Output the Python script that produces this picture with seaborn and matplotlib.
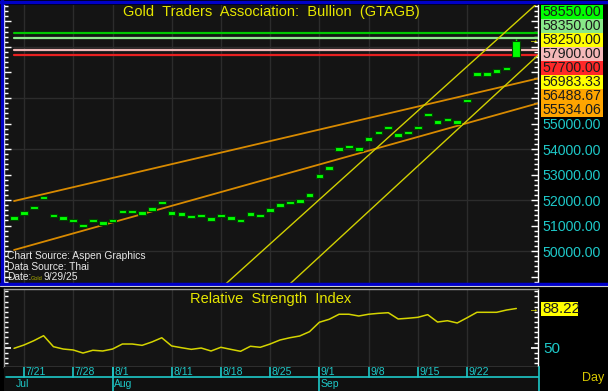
import numpy as np
import pandas as pd
import matplotlib
matplotlib.use('Agg')
import matplotlib.pyplot as plt
import matplotlib.ticker as mticker
from matplotlib.patches import Rectangle
from matplotlib.lines import Line2D
import seaborn as sns

# --- datos ---
dates = pd.bdate_range('2025-07-18', '2025-09-29')
closes = [51300, 51500, 51700, 52100, 51400, 51300, 51200, 51000, 51200, 51100,
          51200, 51550, 51550, 51500, 51650, 51900, 51500, 51450, 51350, 51400,
          51250, 51400, 51300, 51200, 51450, 51400, 51600, 51800, 51900, 51950,
          52200, 52950, 53250, 54000, 54100, 54000, 54400, 54650, 54850, 54550,
          54650, 54850, 55350, 55050, 55150, 55050, 55900, 56950, 56950, 57050,
          57150, 58250]
last_open = 57600
last_high = 58300
rsi = [49.4, 52.6, 56.8, 61.7, 51.0, 48.7, 47.8, 44.8, 47.5, 46.8,
       48.7, 53.6, 53.6, 52.3, 55.6, 59.7, 51.7, 50.0, 48.4, 49.7,
       46.8, 50.4, 48.4, 46.5, 51.4, 50.4, 53.6, 57.5, 59.7, 61.4,
       65.6, 74.8, 77.7, 82.6, 82.6, 80.9, 82.6, 83.5, 84.1, 78.0,
       78.7, 79.6, 82.2, 75.0, 76.3, 74.1, 79.2, 84.5, 84.5, 84.5,
       86.7, 88.22]

# líneas de tendencia (índice de barra, precio)
orange_up = ([0, 54], [51960, 56840])
orange_lo = ([0, 54], [50040, 55880])
yellow_a = ([20, 54], [48190, 60020])
yellow_b = ([27, 54], [48350, 57960])
h_levels = [58550, 58350, 57900, 57700]
h_colors = ['#00c800', '#90e890', '#f0b8b8', '#e82020']

right_labels = ['58550.00', '58350.00', '58250.00', '57900.00', '57700.00',
                '56983.33', '56488.67', '55534.06']
right_colors = ['#00ff00', '#88e888', '#ffff00', '#f4b8b8', '#ff2828',
                '#ffff00', '#ffa500', '#ffa500']

week_ticks = ['7/21', '7/28', '8/1', '8/11', '8/18', '8/25', '9/1', '9/8', '9/15', '9/22']
month_ticks = ['8/1', '9/1']
month_names = ['Jul', 'Aug', 'Sep']

sns.set_theme(style='dark')
plt.rcParams['font.family'] = ['Liberation Sans', 'DejaVu Sans']

W, H = 608, 391
BG = '#141414'
CYAN = '#1ec8c8'
YEL = '#e6e600'
LBL = 10.2

def fx(px):
    return px / W

def fy(py):
    return 1 - py / H

idx = np.arange(len(closes))
labels = [f'{d.month}/{d.day}' for d in dates]
week_pos = [labels.index(t) for t in week_ticks]
month_pos = [labels.index(t) for t in month_ticks]
xlim = (-1.02, 53.2)

fig = plt.figure(figsize=(6.08, 3.91), dpi=100, facecolor='black')
ax = fig.add_axes([fx(4), fy(284), fx(538) - fx(4), fy(5) - fy(284)])
ax_r = fig.add_axes([fx(4), fy(367), fx(538) - fx(4), fy(289) - fy(367)])
ax_d = fig.add_axes([fx(4), fy(391), fx(539) - fx(4), fy(367) - fy(391)])

# ---------- panel principal ----------
ax.set_facecolor(BG)
ax.set_xlim(*xlim)
ax.set_ylim(48706, 59647)
for p in week_pos:
    ax.axvline(p, color='#2c2c2c', lw=1, zorder=0)
for lv in range(50000, 59000, 2000):
    ax.axhline(lv, color='#2c2c2c', lw=1, zorder=0)

for lv, c in zip(h_levels, h_colors):
    ax.plot([0, xlim[1]], [lv, lv], color=c, lw=1.6, zorder=2)
for xs, ys in (orange_up, orange_lo):
    sns.lineplot(x=xs, y=ys, ax=ax, color='#d88a00', lw=1.3, zorder=2)
for xs, ys in (yellow_a, yellow_b):
    sns.lineplot(x=xs, y=ys, ax=ax, color='#d0d000', lw=1.0, zorder=2)

body_lo = [c - 70 for c in closes[:-1]] + [last_open]
body_h = [140] * (len(closes) - 1) + [closes[-1] - last_open]
ax.vlines(idx[-1], closes[-1], last_high, color='#00ff00', lw=1, zorder=3)
ax.bar(idx, body_h, bottom=body_lo, width=0.78, color='#00ff00',
       edgecolor='#004400', linewidth=0.8, zorder=3)

ax.yaxis.set_major_locator(mticker.MultipleLocator(1000))
ax.yaxis.set_minor_locator(mticker.MultipleLocator(200))
ax.yaxis.set_major_formatter(mticker.FuncFormatter(
    lambda v, p: f'{v:.2f}' if 50000 <= v <= 55000 else ''))
ax.tick_params(axis='y', which='both', direction='in', left=True, right=True,
               labelleft=False, labelright=True, colors='white',
               labelcolor=CYAN, labelsize=LBL, pad=3.5)
ax.tick_params(axis='y', which='major', length=5, width=1)
ax.tick_params(axis='y', which='minor', length=3, width=1)
ax.set_xticks([])
for s in ['top', 'bottom']:
    ax.spines[s].set_visible(False)
for s in ['left', 'right']:
    ax.spines[s].set_color('white')
    ax.spines[s].set_linewidth(1)

ax.text(0.5, 0.975, 'Gold  Traders  Association:  Bullion  (GTAGB)',
        transform=ax.transAxes, ha='center', va='center', color=YEL, fontsize=10.5)

# textos de fuente (abajo a la izquierda)
def px_to_ax(xp, yp):
    return (xp - 4) / 534, (284 - yp) / 279

for i, t in enumerate(['Chart Source: Aspen Graphics', 'Data Source: Thai']):
    ax.text(*px_to_ax(7, 256 + i * 10.7), t, transform=ax.transAxes,
            ha='left', va='center', color='#e8e8e8', fontsize=7.4)
ax.text(*px_to_ax(7, 277.4), 'Date:', transform=ax.transAxes,
        ha='left', va='center', color='#e8e8e8', fontsize=7.4)
ax.text(*px_to_ax(30.5, 278.5), 'Gold', transform=ax.transAxes,
        ha='left', va='center', color='#b0b000', fontsize=4)
ax.text(*px_to_ax(43, 277.4), '9/29/25', transform=ax.transAxes,
        ha='left', va='center', color='#e8e8e8', fontsize=7.4)

# ---------- RSI ----------
ax_r.set_facecolor(BG)
ax_r.set_xlim(*xlim)
ax_r.set_ylim(31.2, 107.2)
for p in week_pos:
    ax_r.axvline(p, color='#2c2c2c', lw=1, zorder=0)
sns.lineplot(x=idx, y=rsi, ax=ax_r, color='#d4d400', lw=1.1)
ax_r.set_xticks([])
ax_r.set_xlabel('')
ax_r.set_ylabel('')
ax_r.yaxis.set_major_locator(mticker.FixedLocator([50]))
ax_r.yaxis.set_minor_locator(mticker.MultipleLocator(5))
ax_r.tick_params(axis='y', which='both', direction='in', left=True, right=True,
                 labelleft=False, labelright=True, colors='white',
                 labelcolor=CYAN, labelsize=LBL + 0.8, pad=3.5)
ax_r.tick_params(axis='y', which='major', length=5)
ax_r.tick_params(axis='y', which='minor', length=3)
for s in ['top', 'bottom', 'left', 'right']:
    ax_r.spines[s].set_color('#9a9a9a' if s in ('top', 'bottom', 'left') else 'white')
    ax_r.spines[s].set_linewidth(1)
ax_r.text(0.5, 0.87, 'Relative  Strength  Index', transform=ax_r.transAxes,
          ha='center', va='center', color=YEL, fontsize=10.5)

# ---------- eje de fechas ----------
ax_d.set_facecolor('#101010')
ax_d.set_xlim(xlim[0], xlim[1] + 0.1)
ax_d.set_ylim(0, 1)
ax_d.set_xticks([])
ax_d.set_yticks([])
for s in ['top', 'bottom', 'left']:
    ax_d.spines[s].set_visible(False)
ax_d.spines['right'].set_color(CYAN)
ax_d.spines['right'].set_linewidth(1.2)
ax_d.plot([-0.8, xlim[1] + 0.1], [0.58, 0.58], color=CYAN, lw=1.2)
for p, t in zip(week_pos, week_ticks):
    ax_d.plot([p, p], [0.58, 1], color=CYAN, lw=1.2)
    ax_d.text(p + 0.15, 0.78, t, color=CYAN, fontsize=7.5, ha='left', va='center')
for p in month_pos:
    ax_d.plot([p, p], [0, 1], color=CYAN, lw=1.2)
for p, t in zip([0.05] + month_pos, month_names):
    ax_d.text(p + 0.15, 0.3, t, color=CYAN, fontsize=7.5, ha='left', va='center')

# ---------- etiquetas a la derecha ----------
for k, (t, c) in enumerate(zip(right_labels, right_colors)):
    yc = 12 + 14 * k
    fig.add_artist(Rectangle((fx(541), fy(yc + 7)), fx(603) - fx(541), 14 / H,
                             transform=fig.transFigure, facecolor=c, edgecolor='none'))
    fig.text(fx(542.5), fy(yc), t, ha='left', va='center', color='#1c1c1c', fontsize=LBL)
fig.add_artist(Rectangle((fx(541), fy(316)), fx(578) - fx(541), 14 / H,
                         transform=fig.transFigure, facecolor='#ffff00', edgecolor='none'))
fig.text(fx(542.5), fy(309), '88.22', ha='left', va='center', color='#1c1c1c', fontsize=LBL + 0.8)
fig.text(fx(528), fy(40), '→', ha='left', va='center', color='#ffff00', fontsize=7)
fig.text(fx(528), fy(309), '→', ha='left', va='center', color='#ffff00', fontsize=7)
fig.text(fx(582), fy(378), 'Day', ha='left', va='center', color='#d8c800', fontsize=9)

# marco azul
for xs, ys in [((0, 608), (1.5, 1.5)), ((1.5, 1.5), (0, 285)), ((0, 608), (284, 284))]:
    fig.add_artist(Line2D([fx(x) for x in xs], [fy(y) for y in ys],
                          transform=fig.transFigure, color='#0000c8', lw=2.5))
fig.add_artist(Line2D([0, 1], [fy(286), fy(286)], transform=fig.transFigure,
                      color='#d0d0d0', lw=0.8))

fig.savefig('out.png', dpi=100, facecolor='black')
